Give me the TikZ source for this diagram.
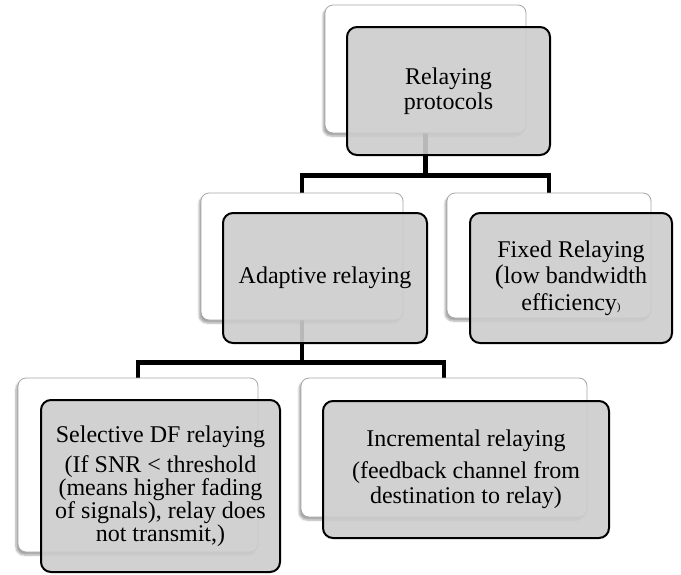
\documentclass[tikz,border=0pt]{standalone}
\usepackage{fontspec}
\setmainfont{Liberation Serif}
\usetikzlibrary{shadows.blur,backgrounds}

\begin{document}
\begin{tikzpicture}[x=1pt, y=-1pt,
    every node/.style={font=\fontsize{24}{25}\selectfont},
    back/.style={draw=black!35, line width=0.8pt, fill=white, rounded corners=8pt, inner sep=0pt,
      blur shadow={shadow xshift=-2pt, shadow yshift=-3pt, shadow opacity=35, shadow blur steps=6}},
    front/.style={draw=black, line width=2pt, rounded corners=10pt, fill=black!20, fill opacity=0.9,
      text opacity=1, align=center, inner sep=0pt},
    link/.style={line width=4.5pt}]
    \useasboundingbox (0,0) rectangle (681,574);

    % top level
    \node[back, minimum width=201pt, minimum height=128pt] (protb) at (425.5,69) {};
    \node[front, minimum width=203pt, minimum height=128pt] (prot) at (448.5,91) {Relaying\\protocols};

    % second level
    \node[back, minimum width=202pt, minimum height=127pt] (adapb) at (302,256.5) {};
    \node[front, minimum width=204pt, minimum height=130pt] (adap) at (325,278) {Adaptive relaying};

    \node[back, minimum width=204pt, minimum height=125pt] (fixb) at (549,255.5) {};
    \node[front, minimum width=202pt, minimum height=130pt, font=\fontsize{24}{26.5}\selectfont] (fix) at (571,278)
        {Fixed Relaying\\{\fontsize{27}{26}\selectfont(}low bandwidth\\efficiency{\fontsize{11}{11}\selectfont)}};

    % third level
    \node[back, minimum width=240pt, minimum height=174pt] (selb) at (138,465) {};
    \node[front, minimum width=239pt, minimum height=172pt, font=\fontsize{24}{20.5}\selectfont] (sel) at (160.5,486)
        {Selective DF relaying\\[7pt](If SNR < threshold\\(means higher fading\\of signals), relay does\\not transmit,)};

    \node[back, minimum width=286pt, minimum height=139pt] (incb) at (444,447.5) {};
    \node[front, minimum width=286pt, minimum height=137pt] (inc) at (466,469.5)
        {Incremental relaying\\[7pt](feedback channel from\\destination to relay)};

    \begin{scope}[on background layer]
        \draw[link] (protb.south) -- ++(0,42) -| (adapb.north);
        \draw[link] (protb.south) -- ++(0,42) -| (fixb.north);
        \draw[link] (adapb.south) -- ++(0,42) -| (selb.north);
        \draw[link] (adapb.south) -- ++(0,42) -| (incb.north);
    \end{scope}
\end{tikzpicture}
\end{document}
